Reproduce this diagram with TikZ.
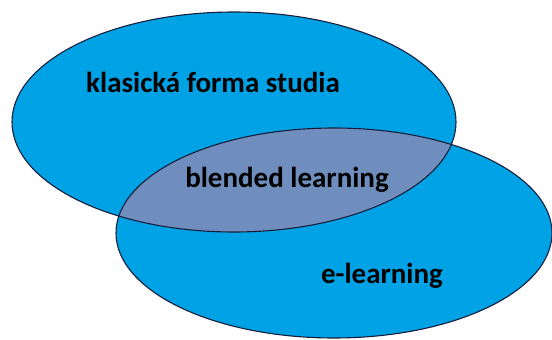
\documentclass[tikz,border=0pt]{standalone}
\usepackage{fontspec}
\setmainfont{Carlito}

\definecolor{setblue}{RGB}{0,162,230}
\definecolor{blendblue}{RGB}{111,142,190}
\definecolor{rimnavy}{RGB}{22,30,58}

\tikzset{
    set/.style = {
        draw=rimnavy,
        line width=1.1pt,
    },
    caption/.style = {
        font=\fontsize{29}{34}\selectfont\bfseries,
        anchor=base,
        inner sep=0pt
    }
}

\begin{document}
\begin{tikzpicture}[x=1pt,y=-1pt]
    \useasboundingbox (0,0) rectangle (552,340);

    % Draw both sets
    \fill[setblue] (234,122) ellipse [x radius=222, y radius=110];
    \fill[setblue] (334,233) ellipse [x radius=218, y radius=105];

    % Overlap
    \begin{scope}
        \clip (234,122) ellipse [x radius=222, y radius=110];
        \fill[blendblue] (334,233) ellipse [x radius=218, y radius=105];
    \end{scope}

    % Outlines
    \draw[set] (234,122) ellipse [x radius=222, y radius=110];
    \draw[set] (334,233) ellipse [x radius=218, y radius=105];

    % Draw labels
    \node[caption] (classic) at (213,92) {klasická forma studia};
    \node[caption] (blended) at (287,187) {blended learning};
    \node[caption] (elearn)  at (382,283) {e-learning};
\end{tikzpicture}
\end{document}
